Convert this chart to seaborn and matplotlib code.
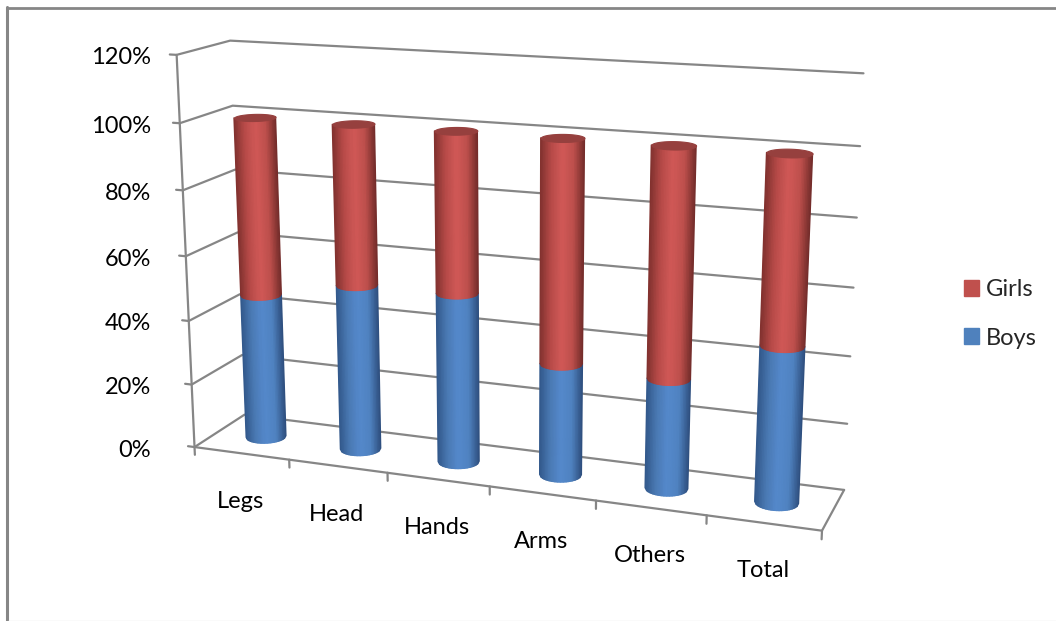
import numpy as np
import pandas as pd
import seaborn as sns
import matplotlib
matplotlib.use("Agg")
import matplotlib.pyplot as plt
from matplotlib.lines import Line2D
from matplotlib.patches import Patch
from mpl_toolkits.mplot3d import proj3d
from mpl_toolkits.mplot3d.art3d import Poly3DCollection

W, H = 1056, 621

categories = ["Legs", "Head", "Hands", "Arms", "Others", "Total"]
boys = [45.5, 51.5, 52, 34, 33, 46]
girls = [54.5, 48.5, 48, 66, 67, 54]
y_ticks = [0, 20, 40, 60, 80, 100, 120]

df = pd.DataFrame({"category": categories, "Boys": boys, "Girls": girls})

sns.set_style("white")
plt.rcParams["font.family"] = ["Lato", "DejaVu Sans"]

GRID = "#868686"
FONT = 17
n_cat = len(categories)
top = y_ticks[-1]

# camera numbers fitted against the wall corners of the reference
ELEV, AZIM, ROLL, FOCAL = 14.6643, -69.7349, 0.0649, 0.4538
BOX_X, BOX_Y = 1.6044, 0.2686

fig = plt.figure(figsize=(W / 100, H / 100), dpi=100)
fig.add_artist(Line2D([7 / W, 1], [1 - 7.5 / H] * 2, color=GRID, lw=2))
fig.add_artist(Line2D([6.5 / W] * 2, [0, 1 - 6.5 / H], color=GRID, lw=2.2))
fig.add_artist(Line2D([8 / W, 1], [0.5 / H] * 2, color="#e6e6e6", lw=1))

ax = fig.add_axes([0.10570, -0.07679, 773.61 / W, 773.61 / H], projection="3d", computed_zorder=False)
ax.set_axis_off()
ax.patch.set_alpha(0)
ax.set_xlim(0, n_cat)
ax.set_ylim(0, 1)
ax.set_zlim(0, top)
ax.view_init(elev=ELEV, azim=AZIM, roll=ROLL)
ax.set_proj_type("persp", focal_length=FOCAL)
ax.set_box_aspect((BOX_X, BOX_Y, 1))
ax.apply_aspect()
proj = ax.get_proj()


def to_px(x, y, z):
    X, Y, _ = proj3d.proj_transform(x, y, z, proj)
    return ax.transData.transform(np.c_[X, Y])


# walls and floor
for z in y_ticks:
    ax.plot([-0.07, 0, 0, n_cat], [0, 0, 1, 1], [z] * 4, color=GRID, lw=1.6, zorder=1)
ax.plot([0, 0], [0, 0], [0, top], color=GRID, lw=1.6, zorder=1)
ax.plot([0, n_cat, n_cat], [0, 0, 1], [0, 0, 0], color=GRID, lw=1.6, zorder=1)
for i in range(n_cat + 1):
    ax.plot([i, i], [0, 0], [0, -2.5], color=GRID, lw=1.6, zorder=1)

# cylinders, left edge to right edge of what the camera sees
BLUE = sns.blend_palette(["#33598c", "#4a79b3", "#5488cb", "#4f82c0", "#2f5080"], 28)
RED = sns.blend_palette(["#83322f", "#b64a48", "#d05856", "#bd4f4c", "#752d2b"], 28)
rx = 0.19
ry = rx * (BOX_X / n_cat) / BOX_Y
ring = np.linspace(0, 2 * np.pi, 721)


def visible_arc(cx, z0):
    # angles of the facing half, spaced evenly across the screen so there are no slivers
    pts = to_px(cx + rx * np.cos(ring), 0.5 + ry * np.sin(ring), np.full_like(ring, z0))
    left = ring[np.argmin(pts[:, 0])]
    right = ring[np.argmax(pts[:, 0])]
    if right < left:
        right += 2 * np.pi
    mid = (left + right) / 2
    half = (right - left) / 2
    return mid + np.arcsin(np.linspace(-1, 1, 29)) * half / (np.pi / 2)


def cylinder(cx, z0, z1, pal, zo):
    th = visible_arc(cx, z0)
    xs = cx + rx * np.cos(th)
    ys = 0.5 + ry * np.sin(th)
    quads = [[(xs[k], ys[k], z0), (xs[k + 1], ys[k + 1], z0),
              (xs[k + 1], ys[k + 1], z1), (xs[k], ys[k], z1)] for k in range(len(th) - 1)]
    coll = Poly3DCollection(quads, facecolors=pal, edgecolors=pal, linewidths=1.0,
                            joinstyle="round", zorder=zo)
    coll.set_snap(False)
    ax.add_collection3d(coll)


for i, row in df.iterrows():
    cx = i + 0.5
    total = row["Boys"] + row["Girls"]
    cylinder(cx, 0, row["Boys"], BLUE, 3)
    cylinder(cx, row["Boys"], total, RED, 4)
    cap = list(zip(cx + rx * np.cos(ring), 0.5 + ry * np.sin(ring), [total] * len(ring)))
    ax.add_collection3d(Poly3DCollection([cap], facecolors="#96403e", edgecolors="#96403e",
                                         linewidths=0.8, zorder=5))

# text
for z in y_ticks:
    px = to_px(np.array([0.0]), np.array([0.0]), np.array([float(z)]))[0]
    fig.text(151 / W, (px[1] - 3) / H, f"{z}%", ha="right", va="center", fontsize=FONT, color="black")
for i, name in enumerate(categories):
    px = to_px(np.array([i + 0.5]), np.array([0.0]), np.array([0.0]))[0]
    fig.text((px[0] - 1) / W, (px[1] - 48) / H, name, ha="center", va="center", fontsize=FONT, color="black")

handles = [Patch(color="#c0504d"), Patch(color="#4f81bd")]
fig.legend(handles, ["Girls", "Boys"], loc="center left", bbox_to_anchor=(964 / W, 1 - 314 / H),
           frameon=False, fontsize=FONT, handlelength=0.64, handleheight=0.64,
           handletextpad=0.3, labelspacing=1.15, borderpad=0, borderaxespad=0)

fig.savefig("out.png", dpi=100)
